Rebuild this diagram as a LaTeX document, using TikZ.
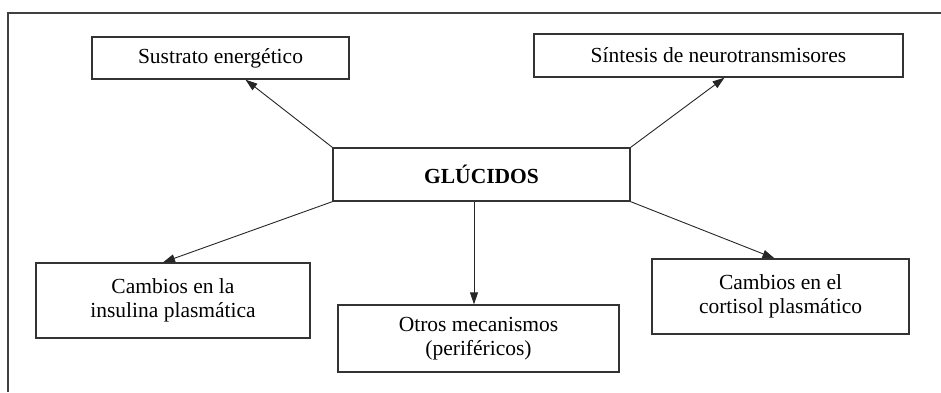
\documentclass[tikz,border=0pt]{standalone}
\usepackage{fontspec}
\setmainfont{Liberation Serif}
\usetikzlibrary{arrows.meta}
\begin{document}
\begin{tikzpicture}[x=1pt,y=-1pt,
  box/.style={draw=black!80,line width=1.3pt,inner sep=0pt,align=center,
    font=\fontsize{21.5}{24.5}\selectfont},
  conn/.style={draw=black!85,line width=0.9pt,-{Triangle[length=12pt,width=8pt]}},
  plain/.style={draw=black!85,line width=0.9pt}]
\useasboundingbox (0,0) rectangle (941,392);
\draw[black!75,line width=2pt] (941,13) -- (8,13) -- (8,392);
\node[box,minimum width=257pt,minimum height=42pt] (sus) at (220.5,58) {Sustrato energético};
\node[box,minimum width=369pt,minimum height=43pt] (syn) at (718.5,55.5) {Síntesis de neurotransmisores};
\node[box,minimum width=297pt,minimum height=53pt] (g) at (481.5,174.5) {\textbf{GLÚCIDOS}};
\node[box,minimum width=274pt,minimum height=75pt] (ins) at (173,300.5) {Cambios en la\\insulina plasmática};
\node[box,minimum width=281pt,minimum height=67pt] (otr) at (478.5,338.5) {Otros mecanismos\\(periféricos)};
\node[box,minimum width=257pt,minimum height=75pt] (cor) at (780.5,296.5) {Cambios en el\\cortisol plasmático};
\draw[conn] (g.north west) -- ([xshift=25pt]sus.south);
\draw[conn] (g.north east) -- ([xshift=6pt]syn.south);
\draw[conn] (g.south west) -- ([xshift=-10pt]ins.north);
\draw[conn] ([xshift=-7.5pt]g.south) -- ([xshift=-4.5pt]otr.north);
\draw[conn] (g.south east) -- ([xshift=-6pt]cor.north);
\end{tikzpicture}
\end{document}
